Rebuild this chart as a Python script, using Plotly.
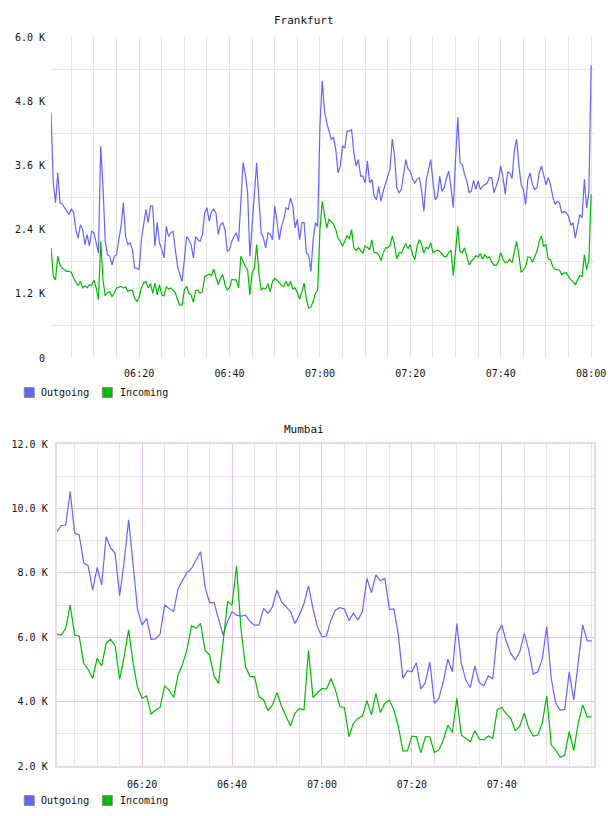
import pandas as pd
import plotly.graph_objects as go

# ---------------- data (values in thousands) ----------------
fra_start = "2024-01-01 06:00:30"
fra_out = [4.59, 3.28, 2.90, 3.46, 2.90, 2.88, 2.81, 2.74, 2.68, 2.79,
           2.72, 2.40, 2.24, 2.49, 2.40, 2.12, 2.31, 2.09, 2.37, 2.34,
           2.15, 1.96, 3.96, 3.21, 2.18, 1.93, 1.90, 1.74, 1.90, 1.93,
           2.21, 2.46, 2.90, 2.27, 2.12, 2.15, 2.03, 1.68, 1.68, 1.65,
           2.21, 2.46, 2.78, 2.53, 2.84, 2.84, 2.09, 2.53, 2.15, 2.03,
           1.87, 2.46, 2.27, 2.34, 2.37, 2.03, 1.71, 1.56, 1.43, 1.84,
           2.27, 2.21, 2.12, 1.87, 2.27, 2.21, 2.18, 2.31, 2.71, 2.81,
           2.56, 2.74, 2.78, 2.71, 2.31, 2.49, 2.53, 2.40, 1.99, 2.03,
           2.18, 2.27, 2.34, 2.18, 3.02, 3.65, 3.43, 3.09, 1.90, 2.46,
           3.15, 3.65, 2.96, 2.34, 2.24, 2.06, 2.34, 2.31, 2.21, 2.84,
           2.56, 2.21, 2.46, 2.59, 2.81, 2.78, 2.99, 2.84, 2.43, 2.59,
           2.21, 2.53, 2.53, 1.96, 1.93, 1.62, 2.21, 2.53, 2.46, 4.34,
           5.18, 4.62, 4.40, 4.24, 4.09, 4.12, 3.90, 3.46, 3.59, 3.96,
           3.93, 4.24, 4.24, 4.27, 3.84, 3.59, 3.71, 3.40, 3.40, 3.27,
           3.68, 3.27, 3.34, 3.02, 2.96, 3.21, 2.93, 3.12, 3.27, 3.37,
           3.53, 4.09, 3.78, 3.18, 3.09, 3.15, 3.43, 3.71, 3.53, 3.49,
           3.34, 3.27, 3.34, 3.37, 3.12, 2.74, 3.31, 3.49, 3.71, 3.31,
           2.96, 3.02, 3.40, 3.12, 3.18, 3.37, 3.49, 3.18, 2.81, 3.71,
           4.50, 3.65, 3.62, 3.43, 3.31, 3.09, 3.12, 3.32, 3.15, 3.31,
           3.15, 3.21, 3.24, 3.27, 3.37, 3.37, 3.09, 3.24, 3.34, 3.59,
           3.37, 3.06, 3.47, 3.46, 3.35, 3.87, 4.09, 3.62, 3.24, 3.15,
           2.87, 3.34, 3.46, 3.24, 3.15, 3.18, 3.46, 3.59, 3.43, 3.24,
           3.37, 3.24, 3.02, 2.87, 2.93, 2.90, 2.71, 2.74, 2.72, 2.65,
           2.49, 2.52, 2.24, 2.43, 2.68, 2.62, 3.34, 2.80, 3.10, 5.47]
fra_in = [2.06, 1.53, 1.46, 1.90, 1.74, 1.68, 1.65, 1.62, 1.62, 1.60,
          1.49, 1.43, 1.35, 1.43, 1.31, 1.35, 1.31, 1.37, 1.35, 1.46,
          1.31, 1.09, 2.18, 1.46, 1.16, 1.22, 1.24, 1.15, 1.21, 1.31,
          1.32, 1.34, 1.31, 1.33, 1.24, 1.27, 1.26, 1.12, 1.06, 1.14,
          1.31, 1.40, 1.43, 1.31, 1.39, 1.21, 1.40, 1.18, 1.37, 1.18,
          1.16, 1.33, 1.29, 1.31, 1.27, 1.22, 1.09, 0.99, 0.99, 1.27,
          1.34, 1.21, 1.18, 1.04, 1.26, 1.27, 1.21, 1.24, 1.52, 1.54,
          1.57, 1.54, 1.66, 1.51, 1.37, 1.49, 1.56, 1.37, 1.27, 1.31,
          1.47, 1.46, 1.46, 1.31, 1.90, 1.81, 1.71, 1.65, 1.18, 1.59,
          1.68, 2.12, 1.59, 1.27, 1.31, 1.29, 1.39, 1.24, 1.43, 1.49,
          1.46, 1.41, 1.35, 1.34, 1.43, 1.34, 1.43, 1.29, 1.31, 1.22,
          1.10, 1.24, 1.40, 1.09, 0.93, 0.95, 1.06, 1.21, 1.27, 2.40,
          2.93, 2.68, 2.43, 2.59, 2.54, 2.51, 2.40, 2.24, 2.18, 2.09,
          2.18, 2.29, 2.22, 2.40, 2.06, 2.01, 2.06, 2.01, 1.95, 2.09,
          2.07, 2.02, 2.21, 1.97, 1.97, 1.93, 1.82, 1.96, 2.06, 2.06,
          2.10, 2.28, 2.12, 1.85, 1.97, 1.96, 2.04, 2.14, 2.04, 2.12,
          1.93, 1.84, 2.09, 2.21, 2.12, 1.96, 2.07, 2.04, 2.15, 1.97,
          1.99, 2.02, 1.99, 1.95, 1.89, 1.90, 1.97, 2.02, 1.54, 1.99,
          2.46, 1.99, 1.97, 2.06, 1.87, 1.74, 1.81, 1.85, 1.91, 1.89,
          1.95, 1.85, 1.93, 1.87, 1.89, 1.79, 1.74, 1.73, 1.81, 1.97,
          1.84, 1.78, 1.79, 1.85, 1.78, 2.02, 2.18, 1.93, 1.60, 1.65,
          1.71, 1.89, 1.88, 1.79, 1.90, 1.99, 2.18, 2.28, 2.09, 2.12,
          1.85, 1.84, 1.71, 1.66, 1.65, 1.64, 1.56, 1.59, 1.59, 1.52,
          1.46, 1.43, 1.37, 1.46, 1.54, 1.52, 1.93, 1.65, 1.84, 3.06]

mum_start = "2024-01-01 06:01:00"
mum_out = [9.28, 9.47, 9.49, 10.53, 9.23, 9.18, 8.32, 8.22, 7.47, 8.17,
           7.63, 9.13, 8.77, 8.61, 7.29, 8.35, 9.65, 8.19, 6.85, 6.38,
           6.59, 5.94, 5.95, 6.10, 7.00, 6.90, 6.80, 7.52, 7.78, 8.02,
           8.14, 8.40, 8.66, 7.57, 7.08, 7.08, 6.54, 6.07, 6.49, 6.80,
           6.69, 6.66, 6.69, 6.49, 6.38, 6.38, 6.90, 6.75, 6.95, 7.47,
           7.10, 6.95, 6.80, 6.43, 6.70, 7.05, 7.60, 6.90, 6.33, 6.02,
           6.04, 6.54, 6.85, 6.92, 6.88, 6.52, 6.75, 6.54, 6.80, 7.83,
           7.39, 7.94, 7.76, 7.83, 6.87, 6.88, 6.07, 4.72, 4.96, 4.93,
           5.21, 4.39, 4.59, 5.24, 3.95, 4.10, 4.62, 5.32, 4.93, 6.43,
           5.19, 4.67, 4.44, 5.11, 4.59, 4.49, 4.80, 4.72, 6.12, 6.38,
           5.87, 5.50, 5.30, 5.55, 6.12, 5.60, 4.86, 4.93, 5.32, 6.33,
           4.72, 3.95, 3.74, 3.76, 4.93, 4.05, 5.14, 6.38, 5.89, 5.89]
mum_in = [6.09, 6.07, 6.28, 7.00, 6.07, 6.04, 5.19, 5.00, 4.72, 5.35,
          5.11, 5.81, 5.94, 5.73, 4.69, 5.40, 6.23, 5.19, 4.44, 4.10,
          4.18, 3.62, 3.74, 3.82, 4.49, 4.36, 4.13, 4.83, 5.16, 5.63,
          6.36, 6.28, 6.43, 5.60, 5.45, 4.80, 4.57, 5.81, 7.11, 7.00,
          8.22, 6.23, 5.09, 4.78, 4.78, 4.15, 4.07, 3.72, 3.90, 4.28,
          3.86, 3.55, 3.24, 3.64, 3.79, 3.74, 5.59, 4.13, 4.26, 4.41,
          4.39, 4.72, 4.36, 3.84, 3.82, 2.91, 3.33, 3.48, 3.55, 4.03,
          3.59, 4.26, 3.66, 3.95, 4.05, 3.74, 3.22, 2.47, 2.47, 2.93,
          2.91, 2.41, 2.91, 2.91, 2.42, 2.50, 2.81, 3.27, 3.04, 4.10,
          2.96, 2.86, 2.76, 3.10, 2.83, 2.81, 2.93, 2.86, 3.76, 3.82,
          3.62, 3.48, 3.10, 3.24, 3.64, 3.17, 2.93, 2.96, 3.33, 4.18,
          2.65, 2.50, 2.27, 2.34, 3.07, 2.48, 3.33, 3.90, 3.53, 3.53]

series_names = ["Outgoing", "Incoming"]
fra_ytick_vals = [0, 1.2, 2.4, 3.6, 4.8, 6.0]
fra_ytick_text = ["0", "1.2 K", "2.4 K", "3.6 K", "4.8 K", "6.0 K"]
mum_ytick_vals = [2, 4, 6, 8, 10, 12]
mum_ytick_text = ["2.0 K", "4.0 K", "6.0 K", "8.0 K", "10.0 K", "12.0 K"]
fra_xtick_text = ["06:20", "06:40", "07:00", "07:20", "07:40", "08:00"]
mum_xtick_text = ["06:20", "06:40", "07:00", "07:20", "07:40"]

# ---------------- styling ----------------
W, H = 608, 816
BLUE = "#6464ff"
GREEN = "#00bb00"
FONT = "DejaVu Sans Mono"
DAY = "2024-01-01 "

def px_x(p):
    return p / W

def px_y(p):
    return 1 - p / H

fra_t = pd.date_range(fra_start, periods=len(fra_out), freq="30s")
mum_t = pd.date_range(mum_start, periods=len(mum_out), freq="1min")

fra_xticks = [pd.Timestamp(DAY + t) for t in fra_xtick_text]
mum_xticks = [pd.Timestamp(DAY + t) for t in mum_xtick_text]
five_min = pd.date_range(DAY + "06:05", DAY + "08:00", freq="5min")

fig = go.Figure()
for vals, col, name in [(fra_out, BLUE, series_names[0]), (fra_in, GREEN, series_names[1])]:
    fig.add_trace(go.Scatter(x=fra_t, y=vals, mode="lines", name=name,
                             line=dict(color=col, width=1.2), showlegend=False,
                             xaxis="x", yaxis="y"))
for vals, col, name in [(mum_out, BLUE, series_names[0]), (mum_in, GREEN, series_names[1])]:
    fig.add_trace(go.Scatter(x=mum_t, y=vals, mode="lines", name=name,
                             line=dict(color=col, width=1.2), showlegend=False,
                             xaxis="x2", yaxis="y2"))

tickfont = dict(family=FONT, size=10, color="#111")
FGRID = "#e4e4e4"
M_MAJ = "#e2c6e2"
M_MIN = "#ece2ec"

fig.update_layout(
    width=W, height=H,
    margin=dict(l=0, r=0, t=0, b=0),
    paper_bgcolor="white", plot_bgcolor="white",
    font=dict(family=FONT, size=10, color="#111"),
    xaxis=dict(
        domain=[px_x(51), px_x(594)], anchor="y",
        range=[DAY + "06:00:30", DAY + "08:00:38"],
        tickvals=fra_xticks, ticktext=fra_xtick_text,
        showgrid=True, gridcolor=FGRID, gridwidth=1,
        minor=dict(tickvals=list(five_min), showgrid=True, gridcolor=FGRID, gridwidth=1, ticks=""),
        ticks="", showline=False, zeroline=False, tickfont=tickfont,
        ticklabelstandoff=8, automargin=False, tickangle=0,
    ),
    yaxis=dict(
        domain=[px_y(358), px_y(37)], anchor="x",
        range=[0, 6.0],
        tickvals=fra_ytick_vals, ticktext=fra_ytick_text,
        showgrid=False,
        minor=dict(tickvals=[0.6, 1.8, 3.0, 4.2, 5.4], showgrid=True, gridcolor=FGRID, gridwidth=1, ticks=""),
        ticks="", showline=False, zeroline=False, tickfont=tickfont,
        ticklabelstandoff=5, automargin=False,
    ),
    xaxis2=dict(
        domain=[px_x(56.7), px_x(593.5)], anchor="y2",
        range=[DAY + "06:01:00", DAY + "08:00:24"],
        tickvals=mum_xticks, ticktext=mum_xtick_text,
        showgrid=True, gridcolor=M_MAJ, gridwidth=1,
        minor=dict(tickvals=list(five_min), showgrid=True, gridcolor=M_MIN, gridwidth=1, ticks=""),
        ticks="", showline=True, linecolor="#ecd6ec", linewidth=2, mirror=True,
        zeroline=False, tickfont=tickfont,
        ticklabelstandoff=8, automargin=False, tickangle=0,
    ),
    yaxis2=dict(
        domain=[px_y(766), px_y(444.3)], anchor="x2",
        range=[2, 12],
        tickvals=mum_ytick_vals, ticktext=mum_ytick_text,
        showgrid=True, gridcolor=M_MAJ, gridwidth=1,
        minor=dict(tickvals=[3, 5, 7, 9, 11], showgrid=True, gridcolor=M_MIN, gridwidth=1, ticks=""),
        ticks="", showline=True, linecolor="#ecd6ec", linewidth=2, mirror=True,
        zeroline=False, tickfont=tickfont,
        ticklabelstandoff=5, automargin=False,
    ),
)

# titles
annotations = []
shapes = []
for title, ty in [("Frankfurt", 20.5), ("Mumbai", 429)]:
    annotations.append(dict(text=title, x=0.5, y=px_y(ty), xref="paper", yref="paper",
                            xanchor="center", yanchor="middle", showarrow=False,
                            font=dict(family=FONT, size=11, color="#111")))

# legends (one under each chart)
for ly in [392.5, 800.5]:
    for (x0, tx), col, name in zip([(24.3, 39), (102.3, 118)], [BLUE, GREEN], series_names):
        shapes.append(dict(type="rect", xref="paper", yref="paper",
                           x0=px_x(x0), x1=px_x(x0 + 10), y0=px_y(ly + 5), y1=px_y(ly - 5),
                           fillcolor=col, line=dict(color="#8a8a8a", width=1)))
        annotations.append(dict(text=name, x=px_x(tx), y=px_y(ly), xref="paper", yref="paper",
                                xanchor="left", yanchor="middle", showarrow=False,
                                font=dict(family=FONT, size=10, color="#111")))

fig.update_layout(annotations=annotations, shapes=shapes)
fig.write_html("out.html")
